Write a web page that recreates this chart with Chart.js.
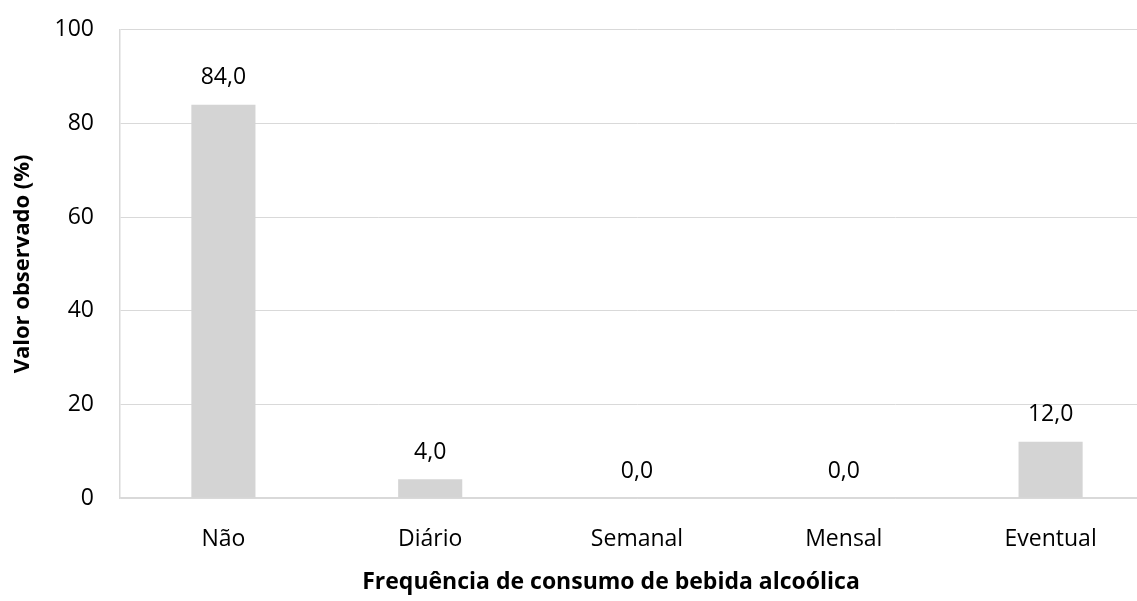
<!DOCTYPE html>
<html><head><meta charset="utf-8">
<script src="https://cdn.jsdelivr.net/npm/chart.js@4/dist/chart.umd.min.js"></script>
<style>html,body{margin:0;padding:0;background:#fff;overflow:hidden;width:1137px;height:601px}
#c{display:block;margin-top:-10px}</style>
</head><body>
<canvas id="c" width="1157" height="611"></canvas>
<script>
const categories = ["Não", "Diário", "Semanal", "Mensal", "Eventual"];
const values = [84.0, 4.0, 0.0, 0.0, 12.0];
const yTicks = [0, 20, 40, 60, 80, 100];
const xTitle = "Frequência de consumo de bebida alcoólica";
const yTitle = "Valor observado (%)";
const FONT = "'Open Sans', sans-serif";

const labelPlugin = {
  id: 'valueLabels',
  afterDatasetsDraw(chart) {
    const ctx = chart.ctx;
    const meta = chart.getDatasetMeta(0);
    ctx.save();
    ctx.font = "23px " + FONT;
    ctx.fillStyle = "#000";
    ctx.textAlign = "center";
    ctx.textBaseline = "middle";
    meta.data.forEach((bar, i) => {
      ctx.fillText(values[i].toFixed(1).replace('.', ','), bar.x, bar.y - 27);
    });
    // x-axis title
    ctx.font = "bold 23px " + FONT;
    ctx.fillText(xTitle, 611, chart.height - 19);
    ctx.restore();
  }
};

new Chart(document.getElementById('c'), {
  type: 'bar',
  data: {
    labels: categories,
    datasets: [{
      data: values,
      backgroundColor: '#d4d4d4',
      borderWidth: 0,
      barPercentage: 0.31,
      categoryPercentage: 1.0
    }]
  },
  options: {
    responsive: false,
    animation: false,
    devicePixelRatio: 1,
    layout: { padding: { left: 10, right: 3, top: 21, bottom: 0 } },
    plugins: { legend: { display: false }, tooltip: { enabled: false } },
    scales: {
      x: {
        grid: { display: false, drawTicks: false },
        border: { color: '#d9d9d9', width: 1.5 },
        ticks: { color: '#000', font: { family: FONT, size: 23 }, padding: 28 },
        afterFit(s) { s.height = 103; }
      },
      y: {
        min: 0, max: 100,
        afterBuildTicks(s) { s.ticks = yTicks.map(v => ({ value: v })); },
        grid: { color: '#d9d9d9', lineWidth: 1, drawTicks: false },
        border: { color: '#d9d9d9', width: 1.5 },
        ticks: { color: '#000', font: { family: FONT, size: 23 }, padding: 26 },
        title: { display: true, text: yTitle, color: '#000', font: { family: FONT, size: 22, weight: 'bold' }, padding: { top: 0, bottom: 0 } },
        afterFit(s) { s.width = 110; }
      }
    }
  },
  plugins: [labelPlugin]
});
</script>
</body></html>
